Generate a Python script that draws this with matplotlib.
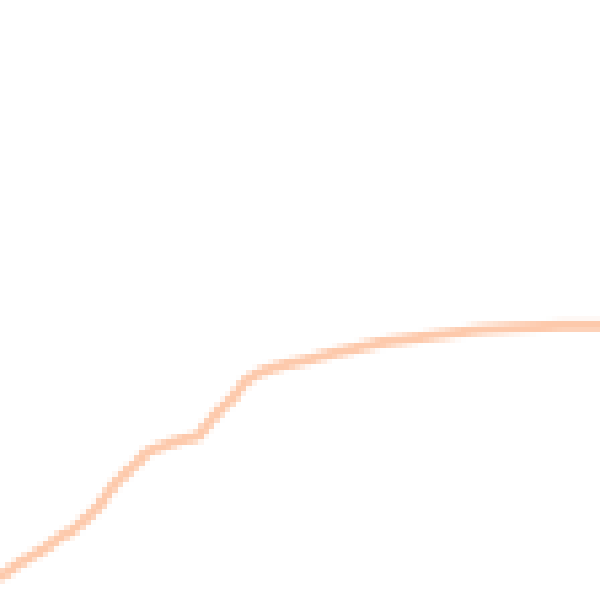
import numpy as np
from matplotlib import pyplot as plt

# curve (x to the right, y upward, 0..600)
curve_x = [0, 3, 20, 43, 60, 72, 87, 100, 108, 117, 127, 138, 147, 163, 180, 197,
           203, 213, 223, 229, 235, 240, 247, 257, 267, 283, 307, 330, 357, 380,
           417, 447, 480, 513, 563, 600]
curve_y = [576, 575, 563, 550, 537, 531, 518, 505, 493, 482, 472, 462, 452, 446, 440, 437,
           430, 418, 407, 402, 396, 388, 380, 374, 370, 365, 360, 354, 348, 343,
           338, 334, 330, 328, 326, 326]

x = np.array(curve_x, dtype=float)
y = 600 - np.array(curve_y, dtype=float)

# draw the curve on a coarse canvas first, the reference looks like ~112 cells
cells = 112
small = plt.figure(figsize=(cells / 100, cells / 100), dpi=100)
sax = small.add_axes([0, 0, 1, 1])
sax.plot(x, y, color='#fdc9ab', lw=1.4)
sax.set_xlim(0, 600)
sax.set_ylim(0, 600)
sax.axis('off')
small.canvas.draw()
img = np.asarray(small.canvas.buffer_rgba()).copy()
plt.close(small)

fig = plt.figure(figsize=(6, 6), dpi=100)
ax = fig.add_axes([0, 0, 1, 1])
ax.imshow(img, extent=(0, 600, 0, 600), interpolation='nearest', aspect='auto')
ax.set_xlim(0, 600)
ax.set_ylim(0, 600)
ax.axis('off')

fig.savefig('out.png', dpi=100)
